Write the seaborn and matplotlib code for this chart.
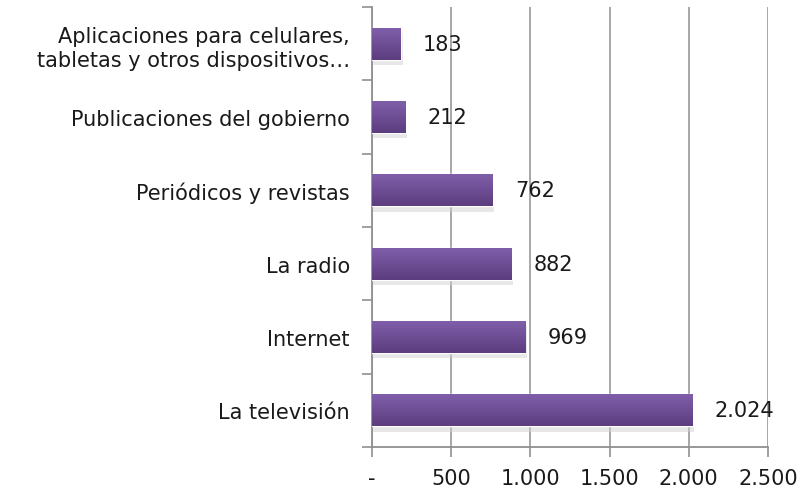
import matplotlib
matplotlib.use('Agg')
import matplotlib.pyplot as plt
import seaborn as sns
import pandas as pd
import numpy as np
from matplotlib.ticker import FuncFormatter, FixedLocator
from matplotlib.patches import Rectangle

categories = ['Aplicaciones para celulares,\ntabletas y otros dispositivos\u2026',
              'Publicaciones del gobierno',
              'Periódicos y revistas',
              'La radio',
              'Internet',
              'La televisión']
values = [183, 212, 762, 882, 969, 2024]
x_ticks = [0, 500, 1000, 1500, 2000, 2500]


def fmt_num(v, pos=None):
    if v == 0:
        return '-'
    return f'{int(round(v)):,}'.replace(',', '.')


def main():
    sns.set_style('white')
    plt.rcParams['font.family'] = ['DejaVu Sans']

    df = pd.DataFrame({'Categoria': categories, 'Valor': values})

    fig = plt.figure(figsize=(8.11, 4.89), dpi=100)
    ax = fig.add_axes([372/811, 1 - 448/489, 396/811, 440/489])

    sns.barplot(x='Valor', y='Categoria', data=df, orient='h', color='#6e4c96',
                width=0.44, ax=ax, zorder=3)

    # gradient fill + soft shadow on each bar
    grad = np.linspace(0, 1, 64).reshape(-1, 1)
    cmap = matplotlib.colors.LinearSegmentedColormap.from_list('pur', ['#8060ab', '#5c3d7f'])
    for p in ax.patches:
        x0, y0 = p.get_x(), p.get_y()
        w, h = p.get_width(), p.get_height()
        sh = Rectangle((x0, y0 + 0.07), w + 10, h, facecolor='#d0d0d0', edgecolor='none',
                       alpha=0.5, zorder=2)
        ax.add_patch(sh)
        im = ax.imshow(grad, aspect='auto', cmap=cmap, extent=(x0, x0 + w, y0 + h, y0),
                       zorder=4, interpolation='bilinear')
        im.set_clip_path(p)

    for i, v in enumerate(values):
        ax.text(v + 140, i, fmt_num(v), va='center', ha='left', fontsize=15, color='#1a1a1a',
                zorder=5)

    ax.set_xlim(0, 2500)
    ax.set_ylim(len(categories) - 0.5, -0.5)
    ax.xaxis.set_major_locator(FixedLocator(x_ticks))
    ax.xaxis.set_major_formatter(FuncFormatter(fmt_num))
    ax.grid(axis='x', color='#a0a0a0', linewidth=1.3, zorder=0)
    ax.set_axisbelow(True)

    ax.set_yticks(np.arange(-0.5, len(categories), 1), minor=True)
    ax.tick_params(axis='y', which='major', length=0, pad=16, labelsize=15, labelcolor='#1a1a1a')
    ax.tick_params(axis='y', which='minor', left=True, length=7, width=1.2, color='#909090')
    ax.tick_params(axis='x', which='major', bottom=True, length=7, width=1.2, color='#909090',
                   pad=8, labelsize=15, labelcolor='#1a1a1a')
    for lbl in ax.get_yticklabels():
        lbl.set_multialignment('right')
        lbl.set_linespacing(1.3)

    ax.set_xlabel('')
    ax.set_ylabel('')
    for s in ['top', 'right']:
        ax.spines[s].set_visible(False)
    for s in ['left', 'bottom']:
        ax.spines[s].set_color('#909090')
        ax.spines[s].set_linewidth(1.3)

    fig.savefig('out.png', dpi=100)
    plt.close(fig)


if __name__ == '__main__':
    main()
